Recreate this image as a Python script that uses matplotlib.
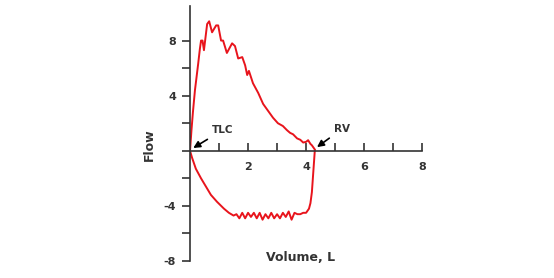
import matplotlib
matplotlib.use("Agg")
import matplotlib.pyplot as plt

exp_vol = [0, 0.05, 0.1, 0.17, 0.28, 0.34, 0.38, 0.43, 0.48, 0.59, 0.66, 0.76, 0.9, 0.97, 1.07,
           1.14, 1.27, 1.45, 1.55, 1.66, 1.8, 1.9, 1.97, 2.03, 2.17, 2.35, 2.52, 2.69, 2.86, 3.03,
           3.2, 3.34, 3.45, 3.55, 3.69, 3.8, 3.9, 4.0, 4.07, 4.15, 4.2, 4.3]
exp_flow = [0, 1.5, 2.8, 4.4, 6.3, 7.4, 8.0, 8.0, 7.3, 9.2, 9.4, 8.6, 9.1, 9.1, 8.0,
            8.0, 7.1, 7.8, 7.6, 6.7, 6.8, 6.2, 5.5, 5.8, 4.9, 4.2, 3.4, 2.9, 2.4, 2.0,
            1.8, 1.5, 1.3, 1.2, 0.9, 0.8, 0.6, 0.65, 0.77, 0.5, 0.4, 0.1]
insp_vol = [4.3, 4.25, 4.2, 4.15, 4.1, 4.0, 3.9, 3.8, 3.7, 3.6, 3.5, 3.4, 3.3, 3.2, 3.1,
            3.0, 2.9, 2.8, 2.7, 2.6, 2.5, 2.4, 2.3, 2.2, 2.1, 2.0, 1.9, 1.8, 1.7, 1.6,
            1.5, 1.34, 1.17, 0.93, 0.72, 0.55, 0.38, 0.2, 0.07, 0]
insp_flow = [0, -1.5, -3.0, -3.8, -4.2, -4.5, -4.5, -4.6, -4.6, -4.5, -5.0, -4.4, -4.8, -4.5, -4.9,
             -4.6, -4.9, -4.5, -4.9, -4.6, -5.0, -4.5, -4.9, -4.5, -4.8, -4.5, -4.9, -4.5, -4.9, -4.6,
             -4.7, -4.5, -4.2, -3.7, -3.2, -2.6, -2.0, -1.3, -0.5, 0]

x_ticks = [1, 2, 3, 4, 5, 6, 7, 8]
x_labels = ["", "2", "", "4", "", "6", "", "8"]
y_ticks = [-8, -6, -4, -2, 0, 2, 4, 6, 8]
y_labels = ["-8", "", "-4", "", "", "", "4", "", "8"]

txt = "#333333"
fig = plt.figure(figsize=(5.54, 2.78), dpi=100)
ax = fig.add_axes([0.343, 0.061, 0.419, 0.917])
ax.plot(exp_vol, exp_flow, color="#e8141c", lw=1.4)
ax.plot(insp_vol, insp_flow, color="#e8141c", lw=1.4)

ax.set_xlim(0, 8)
ax.set_ylim(-8, 10.5)
ax.spines["top"].set_visible(False)
ax.spines["right"].set_visible(False)
ax.spines["bottom"].set_position(("data", 0))
for s in ("left", "bottom"):
    ax.spines[s].set_color("#333333")
    ax.spines[s].set_linewidth(1.2)

ax.set_xticks(x_ticks)
ax.set_xticklabels(x_labels, fontsize=8, fontweight="bold", color=txt)
ax.set_yticks(y_ticks)
ax.set_yticklabels(y_labels, fontsize=8, fontweight="bold", color=txt)
ax.tick_params(axis="x", direction="in", length=6, width=1.2, color="#333333", pad=8)
ax.tick_params(axis="y", direction="out", length=6, width=1.2, color="#333333", pad=4)

fig.text(0.27, 0.478, "Flow", rotation=90, ha="center", va="center",
         fontsize=9, fontweight="bold", color=txt)
fig.text(0.542, 0.075, "Volume, L", ha="center", va="center",
         fontsize=9, fontweight="bold", color=txt)

arrow = dict(arrowstyle="-|>", color="black", lw=1.2, mutation_scale=10)
ax.annotate("TLC", xy=(0.03, 0.1), xytext=(0.75, 1.5), fontsize=7.5, fontweight="bold",
            color=txt, va="center", ha="left", arrowprops=arrow)
ax.annotate("RV", xy=(4.3, 0.15), xytext=(4.97, 1.6), fontsize=7.5, fontweight="bold",
            color=txt, va="center", ha="left", arrowprops=arrow)

fig.savefig("out.png", dpi=100)
